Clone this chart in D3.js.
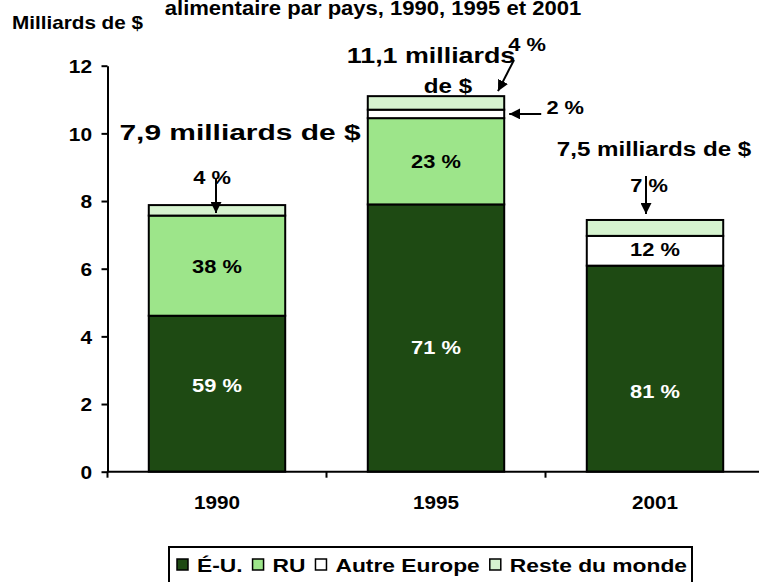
<!DOCTYPE html>
<html>
<head>
<meta charset="utf-8">
<script src="https://cdn.jsdelivr.net/npm/d3@7"></script>
<style>
  body { margin: 0; background: #fff; }
  svg { display: block; font-family: "Liberation Sans", Arial, sans-serif; }
</style>
</head>
<body>
<svg id="chart"></svg>
<script>
// data (milliards de $)
const years = ["1990", "1995", "2001"]
const series = ["É-U.", "RU", "Autre Europe", "Reste du monde"]
const usValues = [4.61, 7.90, 6.09]
const ukValues = [2.96, 2.55, 0]
const otherEurope = [0, 0.25, 0.88]
const restOfWorld = [0.31, 0.40, 0.47]
const usPct = ["59 %", "71 %", "81 %"]
const ukPct = ["38 %", "23 %", ""]
const otherPct = ["", "2 %", "12 %"]
const restPct = ["4 %", "4 %", "7 %"]
const totals = ["7,9 milliards de $", "11,1 milliards", "7,5 milliards de $"]
const yTicks = [0, 2, 4, 6, 8, 10, 12]

const colors = ["#1e4a13", "#9de58a", "#ffffff", "#d6f3cf"]
const SX = 1.15   // the original text is stretched sideways

const width = 759,
    height = 582

const svg = d3.select("#chart")
    .attr("width", width)
    .attr("height", height)

const rows = years.map((yr, i) => ({
    year: yr,
    "É-U.": usValues[i],
    "RU": ukValues[i],
    "Autre Europe": otherEurope[i],
    "Reste du monde": restOfWorld[i]
}))

const stacked = d3.stack().keys(series)(rows)

const x = d3.scaleBand()
    .domain(years)
    .range([107.5, 107.5 + 3 * 219])
    .paddingInner(0.377)
    .paddingOuter(0.1885)

const y = d3.scaleLinear()
    .domain([0, 12])
    .range([471.7, 65.7])

// helper for the stretched bold text
const label = (x0, y0, s, size, anchor = "middle", fill = "#000", sx = SX) =>
    svg.append("text")
        .attr("transform", `translate(${x0},${y0}) scale(${sx},1)`)
        .attr("text-anchor", anchor)
        .attr("font-size", size)
        .attr("font-weight", "bold")
        .attr("fill", fill)
        .text(s)

// bars
svg.append("g")
    .selectAll("g")
    .data(stacked)
    .join("g")
    .attr("fill", (d, i) => colors[i])
    .selectAll("rect")
    .data(d => d.filter(p => p[1] - p[0] > 0))
    .join("rect")
    .attr("x", d => x(d.data.year))
    .attr("y", d => y(d[1]))
    .attr("width", x.bandwidth())
    .attr("height", d => y(d[0]) - y(d[1]))
    .attr("stroke", "#000")
    .attr("stroke-width", 2)

// y axis
const yAxis = svg.append("g")
    .attr("transform", "translate(107.5,0)")
    .call(d3.axisLeft(y).tickValues(yTicks).tickSize(6).tickSizeOuter(0).tickPadding(8))
yAxis.select(".domain").attr("stroke-width", 2)
yAxis.selectAll(".tick line").attr("stroke-width", 2)
yAxis.selectAll(".tick text")
    .attr("font-size", 19)
    .attr("font-weight", "bold")
    .attr("font-family", null)
    .attr("transform", `scale(1.1,1)`)
    .attr("dy", "0.36em")

// x axis: line, ticks between categories, labels
const y0 = y(0)
svg.append("line")
    .attr("x1", 107.5).attr("x2", width)
    .attr("y1", y0).attr("y2", y0)
    .attr("stroke", "#000").attr("stroke-width", 2)
svg.append("g")
    .selectAll("line")
    .data(d3.range(years.length + 1))
    .join("line")
    .attr("x1", i => 107.5 + i * x.step())
    .attr("x2", i => 107.5 + i * x.step())
    .attr("y1", y0).attr("y2", y0 + 6)
    .attr("stroke", "#000").attr("stroke-width", 2)
years.forEach(yr => label(x(yr) + x.bandwidth() / 2, 509, yr, 18))

// percentages inside the bars
const inside = [
    { s: 0, i: 0, text: usPct[0], dy: -9, fill: "#fff" },
    { s: 1, i: 0, text: ukPct[0], dy: 0, fill: "#000" },
    { s: 0, i: 1, text: usPct[1], dy: 9, fill: "#fff" },
    { s: 1, i: 1, text: ukPct[1], dy: 0, fill: "#000" },
    { s: 0, i: 2, text: usPct[2], dy: 22, fill: "#fff" },
    { s: 2, i: 2, text: otherPct[2], dy: -2, fill: "#000" }
]
inside.forEach(d => {
    const p = stacked[d.s][d.i]
    label(x(years[d.i]) + x.bandwidth() / 2, y((p[0] + p[1]) / 2) + d.dy + 7,
        d.text, 19, "middle", d.fill)
})

// annotations above the bars
const cx = i => x(years[i]) + x.bandwidth() / 2
const barTop = i => y(stacked[3][i][1])

svg.append("defs").append("marker")
    .attr("id", "head")
    .attr("viewBox", "0 0 10 10")
    .attr("refX", 10).attr("refY", 5)
    .attr("markerWidth", 5.5).attr("markerHeight", 5.5)
    .attr("orient", "auto")
    .append("path")
    .attr("d", "M0,0L10,5L0,10z")
    .attr("fill", "#000")

const arrow = (x1, y1, x2, y2) => svg.append("line")
    .attr("x1", x1).attr("y1", y1).attr("x2", x2).attr("y2", y2)
    .attr("stroke", "#000").attr("stroke-width", 2)
    .attr("marker-end", "url(#head)")

// 1990
label(cx(0) + 23, 140, totals[0], 22, "middle", "#000", 1.36)
label(cx(0) - 5, 184, restPct[0], 19)
arrow(cx(0) - 1, 179, cx(0) - 1, barTop(0) + 8)

// 1995
label(cx(1) - 5, 63, totals[1], 22, "middle", "#000", 1.22)
label(cx(1) + 12, 93, "de $", 21)
label(cx(1) + 91, 51, restPct[1], 19)
arrow(cx(1) + 78, 60, cx(1) + 62, barTop(1) - 5)
const aeMid = y(stacked[2][1][0] + otherEurope[1] / 2)
label(x("1995") + x.bandwidth() + 61, 114, otherPct[1], 19)
arrow(x("1995") + x.bandwidth() + 37, aeMid, x("1995") + x.bandwidth() + 5, aeMid)

// 2001
label(cx(2) - 1, 156, totals[2], 21)
label(cx(2) - 6, 192, restPct[2], 19)
arrow(cx(2) - 9, 176, cx(2) - 9, barTop(2) - 6)

// y axis title and chart title (cut at the top)
label(12, 29, "Milliards de $", 18, "start")
label(373, 15, "alimentaire par pays, 1990, 1995 et 2001", 21, "middle", "#000", 1.05)

// legend
const lg = svg.append("g")
lg.append("rect")
    .attr("x", 169).attr("y", 547)
    .attr("width", 523).attr("height", 50)
    .attr("fill", "#fff").attr("stroke", "#000").attr("stroke-width", 2)
let lx = 177
series.forEach((s, i) => {
    lg.append("rect")
        .attr("x", lx).attr("y", 559)
        .attr("width", 11).attr("height", 11)
        .attr("fill", colors[i])
        .attr("stroke", "#000").attr("stroke-width", 1.5)
    const t = label(lx + 20, 572, s, 19, "start", "#000", 1.2)
    lg.node().appendChild(t.node())
    lx += 20 + t.node().getComputedTextLength() * 1.2 + 10
})
</script>
</body>
</html>
